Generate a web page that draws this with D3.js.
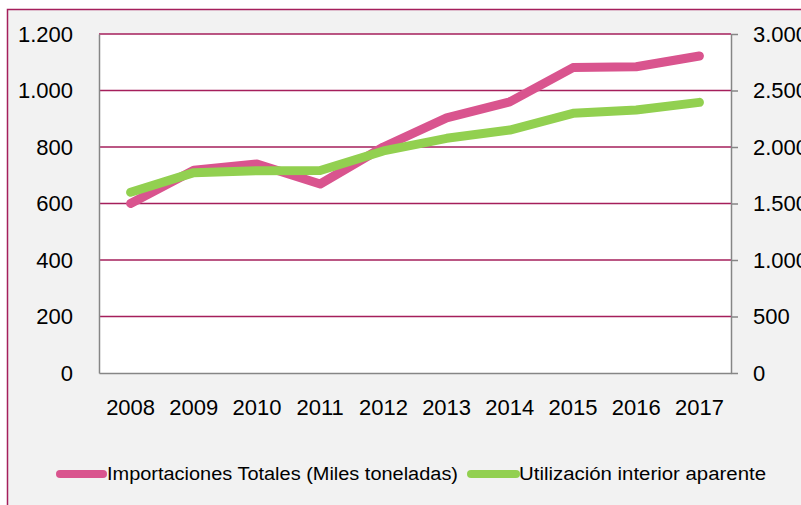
<!DOCTYPE html>
<html>
<head>
<meta charset="utf-8">
<script src="https://cdn.jsdelivr.net/npm/d3@7"></script>
<style>
  body { margin: 0; background: #fff; }
  text { font-family: 'Liberation Sans', Arial, sans-serif; fill: #000; }
</style>
</head>
<body>
<script>
// Data
var years = ['2008', '2009', '2010', '2011', '2012', '2013', '2014', '2015', '2016', '2017'];
var importaciones = [600, 718, 740, 669, 800, 903, 960, 1081, 1084, 1122];
var utilizacion = [1599, 1773, 1790, 1792, 1965, 2077, 2150, 2298, 2327, 2395];
var leftTicks = [0, 200, 400, 600, 800, 1000, 1200];
var rightTicks = [0, 500, 1000, 1500, 2000, 2500, 3000];
var seriesNames = ['Importaciones Totales (Miles toneladas)', 'Utilización interior aparente'];

// Variables
var width = 801, height = 505;
var plot = { left: 99, right: 731, top: 34, bottom: 373 };
var pink = '#d9548e', green = '#92d050', berry = '#a51f5b', grey = '#868686';
var fmt = function(d) { return d3.format(',')(d).replace(/,/g, '.'); };

var svg = d3.select('body').append('svg')
      .attr('width', width)
      .attr('height', height);

// Chart area
svg.append('rect')
    .attr('x', 7.5).attr('y', 9.5)
    .attr('width', width).attr('height', height)
    .attr('fill', '#f2f2f2')
    .attr('stroke', berry)
    .attr('stroke-width', 1.5);

svg.append('rect')
    .attr('x', plot.left).attr('y', plot.top)
    .attr('width', plot.right - plot.left).attr('height', plot.bottom - plot.top)
    .attr('fill', '#fff');

// Scaling
var x = d3.scaleBand().domain(years).range([plot.left, plot.right]);
var yLeft = d3.scaleLinear().domain([0, 1200]).range([plot.bottom, plot.top]);
var yRight = d3.scaleLinear().domain([0, 3000]).range([plot.bottom, plot.top]);

// Gridlines
svg.append('g')
    .selectAll('line')
    .data(leftTicks.slice(1))
    .enter().append('line')
      .attr('x1', plot.left).attr('x2', plot.right)
      .attr('y1', function(d) { return yLeft(d); })
      .attr('y2', function(d) { return yLeft(d); })
      .attr('stroke', berry)
      .attr('stroke-width', 1.5);

// Axes
var leftAxis = svg.append('g')
    .attr('transform', 'translate(' + plot.left + ',0)')
    .call(d3.axisLeft(yLeft).tickValues(leftTicks).tickFormat(fmt).tickSize(0).tickPadding(26));
leftAxis.select('.domain').attr('stroke', grey).attr('stroke-width', 1.5);
leftAxis.selectAll('text').style('font-size', '22px');

var rightAxis = svg.append('g')
    .attr('transform', 'translate(' + plot.right + ',0)')
    .call(d3.axisRight(yRight).tickValues(rightTicks).tickFormat(fmt).tickSizeInner(7).tickSizeOuter(0).tickPadding(15));
rightAxis.select('.domain').attr('stroke', grey).attr('stroke-width', 1.5);
rightAxis.selectAll('.tick line').attr('stroke', grey).attr('stroke-width', 1.5);
rightAxis.selectAll('text').style('font-size', '22px');

var bottomAxis = svg.append('g')
    .attr('transform', 'translate(0,' + plot.bottom + ')')
    .call(d3.axisBottom(x).tickSize(0).tickPadding(26));
bottomAxis.select('.domain').attr('stroke', grey).attr('stroke-width', 1.5);
bottomAxis.selectAll('text').style('font-size', '22px');
svg.selectAll('.tick text').attr('fill', '#000');

// Lines
var lineLeft = d3.line()
    .x(function(d, i) { return x(years[i]) + x.bandwidth() / 2; })
    .y(function(d) { return yLeft(d); });
var lineRight = d3.line()
    .x(function(d, i) { return x(years[i]) + x.bandwidth() / 2; })
    .y(function(d) { return yRight(d); });

svg.append('path')
    .datum(importaciones)
    .attr('d', lineLeft)
    .attr('fill', 'none')
    .attr('stroke', pink)
    .attr('stroke-width', 9)
    .attr('stroke-linecap', 'round')
    .attr('stroke-linejoin', 'round');

svg.append('path')
    .datum(utilizacion)
    .attr('d', lineRight)
    .attr('fill', 'none')
    .attr('stroke', green)
    .attr('stroke-width', 9)
    .attr('stroke-linecap', 'round')
    .attr('stroke-linejoin', 'round');

// Legend
var legendItems = [
  { name: seriesNames[0], color: pink, x1: 60, x2: 103, tx: 107, tw: 351 },
  { name: seriesNames[1], color: green, x1: 471, x2: 516, tx: 519, tw: 247 }
];
var legend = svg.selectAll('.legend')
    .data(legendItems)
    .enter().append('g')
      .attr('class', 'legend');
legend.append('line')
    .attr('x1', function(d) { return d.x1; })
    .attr('x2', function(d) { return d.x2; })
    .attr('y1', 474).attr('y2', 474)
    .attr('stroke', function(d) { return d.color; })
    .attr('stroke-width', 8)
    .attr('stroke-linecap', 'round');
legend.append('text')
    .attr('x', function(d) { return d.tx; })
    .attr('y', 474)
    .attr('dy', '0.35em')
    .attr('textLength', function(d) { return d.tw; })
    .attr('lengthAdjust', 'spacingAndGlyphs')
    .style('font-size', '18px')
    .text(function(d) { return d.name; });
</script>
</body>
</html>
